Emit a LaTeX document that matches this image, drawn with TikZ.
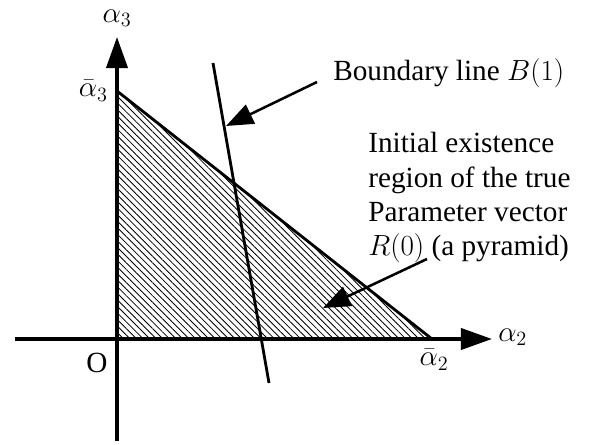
\documentclass[tikz,border=0pt]{standalone}
\usepackage{fontspec}
\setmainfont{Liberation Serif}
\usetikzlibrary{arrows.meta,patterns.meta,positioning}

\begin{document}
\begin{tikzpicture}[x=0.025cm, y=-0.025cm, font=\fontsize{20.8}{24.5}\selectfont]
    \tikzset{
      axis/.style={line width=2.6pt, -{Triangle[length=0.78cm,width=0.53cm]}},
      pointer/.style={line width=1.8pt, -{Triangle[length=0.68cm,width=0.52cm]}},
      edge/.style={line width=2pt},
      hatch/.style={pattern={Lines[angle=-45,distance=3.3pt,line width=0.6pt]}},
      lab/.style={inner sep=0pt},
    }
    \useasboundingbox (0,0) rectangle (594,445);

    \coordinate (O) at (117,339);
    \coordinate (a3) at (117,91);
    \coordinate (a2) at (432,339);
    \coordinate (xl) at (15,339);
    \coordinate (xr) at (492,339);
    \coordinate (yb) at (117,441);
    \coordinate (yt) at (117,37);
    \coordinate (b1) at (213,63);
    \coordinate (b2) at (269,383);

    \fill[hatch] (a3) -- (O) -- (a2) -- cycle;
    \draw[edge] (a3) -- (a2);
    \draw[edge] (b1) -- (b2);
    \draw[axis] (xl) -- (xr);
    \draw[axis] (yb) -- (yt);

    \node[lab] (ly) at (117,18) {$\alpha_3$};
    \node[lab, anchor=west] (lx) at (498,337) {$\alpha_2$};
    \node[lab, anchor=east] (la3) at (108,91) {$\bar{\alpha}_3$};
    \node[lab] (la2) at (434,360) {$\bar{\alpha}_2$};
    \node[lab] (lo) at (97,363) {O};

    \node[lab, anchor=west] (bnd) at (333,73) {Boundary line $B(1)$};
    \node[lab, anchor=north west, align=left] (reg) at (368,132)
      {Initial existence\\region of the true\\Parameter vector\\$R(0)$ (a pyramid)};

    \coordinate (t1) at (317,82);
    \coordinate (h1) at (226,126);
    \coordinate (t2) at (427,259);
    \coordinate (h2) at (323,308);
    \draw[pointer] (t1) -- (h1);
    \draw[pointer] (t2) -- (h2);
  \end{tikzpicture}
\end{document}
